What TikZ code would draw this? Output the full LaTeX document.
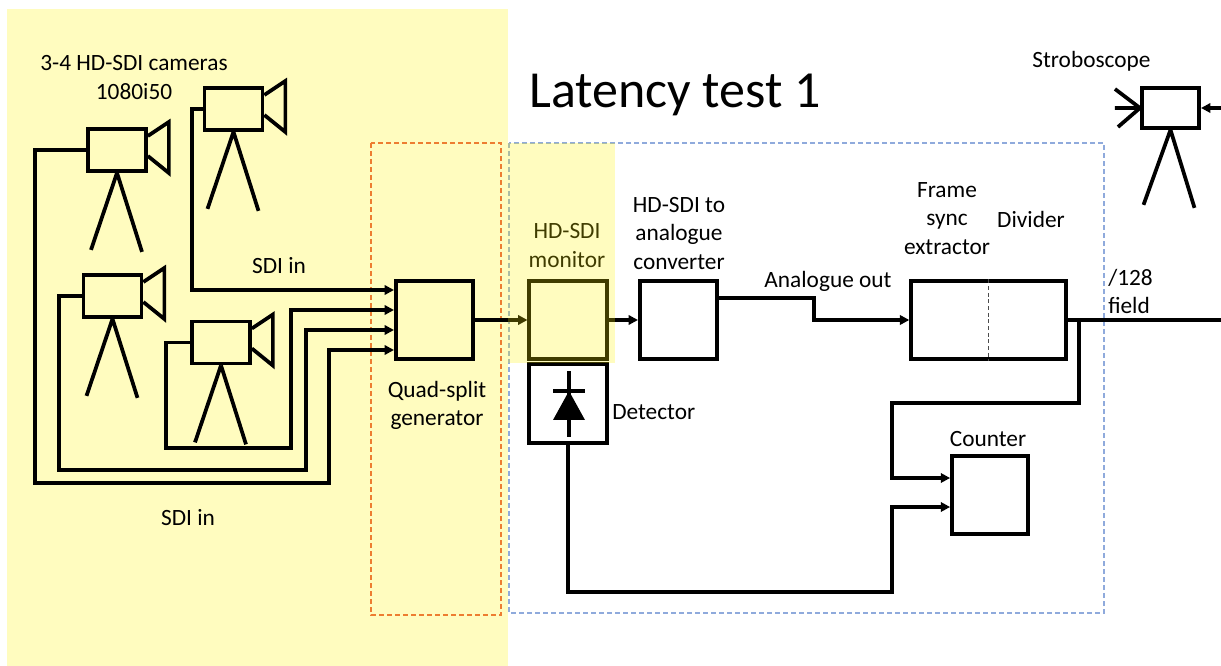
\documentclass[tikz,border=0pt]{standalone}
\usepackage{fontspec}
\setmainfont{Carlito}
\usepackage{xcolor}
\usetikzlibrary{arrows.meta}
\usetikzlibrary{calc}

\definecolor{quadline}{RGB}{237,125,49}
\definecolor{testline}{RGB}{143,170,220}

\tikzset{
  wire/.style={line width=2.8pt},
  box/.style={draw, line width=2.8pt, inner sep=0pt, minimum width=58pt, minimum height=58pt},
  body/.style={draw, line width=2.8pt, inner sep=0pt, minimum width=43.5pt, minimum height=31.5pt},
  lbl/.style={font=\fontsize{17.5}{21.5}\selectfont, align=center, inner sep=0pt},
  >={Triangle[length=7pt, width=7pt]}
}

\begin{document}
\begin{tikzpicture}[x=0.75pt, y=-0.75pt]
      \useasboundingbox (0,0) rectangle (1221,666);
      \fill[yellow, fill opacity=0.25] (7,9) rectangle (508,666);
      \draw[quadline, line width=0.9pt, dash pattern=on 4pt off 2pt] (371,143) rectangle (501,615);
      \draw[testline, line width=0.9pt, dash pattern=on 4pt off 2pt] (509,143) rectangle (1104,613);

      \node[lbl, font=\fontsize{39}{47}\selectfont] (title) at (675,95) {Latency test 1};
      \node[lbl] (camtext) at (134,77.5) {3-4 HD-SDI cameras\\1080i50};

      \foreach \name/\x/\y in {camA/233.5/109, camB/117/150, camC/112.5/296, camD/221/342.5} {
        \node[body] (\name) at (\x,\y) {};
        \draw[wire] ($(\name.east)+(0,-14)$) -- ++(21,-14) -- ++(0,51) -- ($(\name.east)+(0,6)$);
        \draw[wire] (\name.south) -- ++(-26,77) (\name.south) -- ++(25,79);
      }

      \node[box] (quad) at (434.5,320) {};
      \node[lbl] (quadtext) at (437,405.5) {Quad-split\\generator};
      \coordinate (q1) at ($(quad.west)+(0,-30)$);
      \coordinate (q2) at ($(quad.west)+(0,-10)$);
      \coordinate (q3) at ($(quad.west)+(0,10)$);
      \coordinate (q4) at ($(quad.west)+(0,30)$);

      \draw[wire, ->] (camA.west) -- ++(-11,0) |- (q1);
      \draw[wire, ->] (camD.west) -- ++(-24,0) |- (291,448) |- (q2);
      \draw[wire, ->] (camC.west) -- ++(-23,0) |- (306,470) |- (q3);
      \draw[wire, ->] (camB.west) -- ++(-51,0) |- (329,483) |- (q4);
      \node[lbl] (sdi1) at (279,266) {SDI in};
      \node[lbl] (sdi2) at (188,518) {SDI in};

      \node[box] (mon) at (568,320) {};
      \node[lbl] (montext) at (567,245.5) {HD-SDI\\monitor};
      \node[box] (conv) at (678.5,320) {};
      \node[lbl] (convtext) at (679,233.5) {HD-SDI to\\analogue\\converter};
      \draw[wire, ->] (quad.east) -- (mon.west);
      \draw[wire, ->] (mon.east) -- (conv.west);

      \node[box, minimum height=59pt] (det) at (568,403.5) {};
      \node[lbl, anchor=west] (dettext) at (612,412) {Detector};
      \draw[line width=2.4pt] ($(det.center)+(1,-32)$) -- ($(det.center)+(1,34)$);
      \draw[line width=2.4pt] ($(det.center)+(-15,-12.5)$) -- ++(32,0);
      \fill ($(det.center)+(1,-12.5)$) -- ($(det.center)+(-15,16.5)$) -- ($(det.center)+(17,16.5)$) -- cycle;

      \node[box, minimum width=116pt] (frame) at (988.5,320) {};
      \draw[black!70, line width=0.9pt, dash pattern=on 3pt off 2pt] (frame.north) -- (frame.south);
      \node[lbl] (frametext) at (947,218.5) {Frame\\sync\\extractor};
      \node[lbl] (divtext) at (1031,219) {Divider};
      \draw[wire, ->] ($(conv.east)+(0,-22)$) -- (814,298) -- (814,320) -- (frame.west);
      \node[lbl] (anatext) at (828,281) {Analogue out};

      \coordinate (tap) at (1079,320);
      \coordinate (fieldout) at (1221,320);
      \draw[wire] (frame.east) -- (fieldout);
      \node[lbl, align=left, anchor=west] (fieldtext) at (1108,291.5) {/128\\field};

      \node[box, minimum width=57pt] (cnt) at (990,495) {};
      \node[lbl] (cnttext) at (988,439) {Counter};
      \draw[wire, ->] (tap) |- (892,403) |- ($(cnt.west)+(0,-17)$);
      \draw[wire, ->] (det.south) |- (892,592) |- ($(cnt.west)+(0,12)$);

      \node[body, minimum width=43pt, minimum height=30pt] (strobe) at (1170.5,108) {};
      \node[lbl] (strobetext) at (1091.5,61) {Stroboscope};
      \draw[wire] (strobe.south) -- ++(-27,75) (strobe.south) -- ++(24,78);
      \draw[wire] (strobe.west) -- ++(-25,-19) (strobe.west) -- ++(-25,0) (strobe.west) -- ++(-22,19);
      \coordinate (strobein) at (1221,108);
      \draw[wire, ->] (strobein) -- (strobe.east);

      \fill[yellow, fill opacity=0.25] (508,143) rectangle (615,363);
    \end{tikzpicture}
\end{document}
